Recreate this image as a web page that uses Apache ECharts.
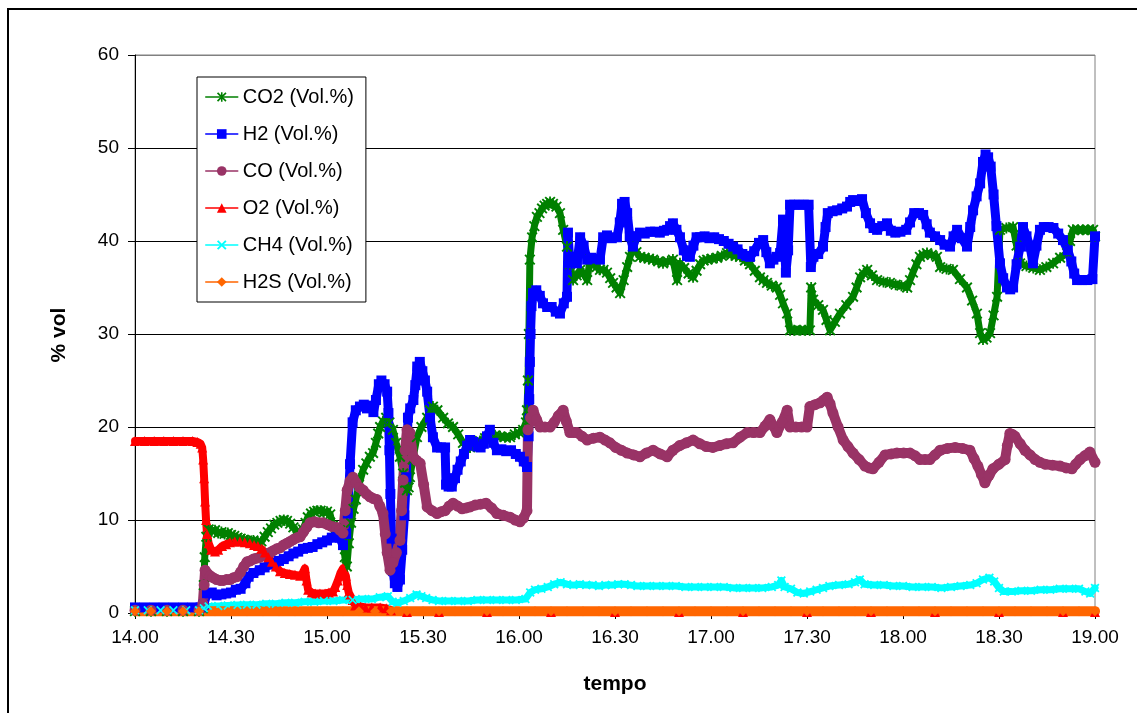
<!DOCTYPE html>
<html><head><meta charset="utf-8">
<script src="https://cdn.jsdelivr.net/npm/echarts@6/dist/echarts.min.js"></script>
<style>html,body{margin:0;padding:0;background:#fff}#c{width:1137px;height:713px}</style>
</head><body><div id="c"></div>
<script>
// x values are minutes after 14.00
const xTickLabels = ['14.00','14.30','15.00','15.30','16.00','16.30','17.00','17.30','18.00','18.30','19.00'];
const yTickLabels = ['0','10','20','30','40','50','60'];
const seriesNames = ['CO2 (Vol.%)','H2 (Vol.%)','CO (Vol.%)','O2 (Vol.%)','CH4 (Vol.%)','H2S (Vol.%)'];

const co2 = [[0,0.2],[5,0.2],[10,0.2],[15,0.2],[20,0.2],[21.2,0.5],[21.5,3],[21.8,6],[22.3,8.2],[23,9],[24,8.8],[25,8.9],[26,8.6],[27,8.7],[28,8.5],[29,8.6],[30,8.4],[31,8.3],[32,8.1],[33,8.0],[34,7.9],[35,7.8],[36,7.7],[37,7.8],[38.4,7.5],[39.5,7.7],[40.5,8.2],[41.5,8.7],[42.5,9.1],[43.5,9.5],[44.5,9.7],[45.5,9.9],[46.5,10],[47.5,9.9],[48.5,9.6],[49.5,9.2],[50.5,8.8],[51.6,8.6],[52.5,9],[53.3,9.7],[54,10.3],[55,10.7],[56,10.9],[57,11],[58,11],[59,10.8],[60,10.9],[61,10.6],[61.8,9.4],[62.8,9.1],[64,8.9],[65,8.2],[65.6,6],[66.2,5],[66.8,7.5],[67.5,9.7],[68.3,11.2],[69,12.2],[70,13.8],[71.3,15.4],[72.3,16.1],[73.4,16.8],[74.4,17.2],[75.3,18.3],[76,19.3],[76.6,20],[77.5,20.6],[78.5,21],[79.5,20.5],[80.6,19.7],[81.6,18.3],[82.8,16.8],[83.8,15],[84.4,14],[85,13.2],[85.5,13.5],[85.9,14.6],[86.8,16.5],[88.1,18.9],[89.5,20],[91.3,21],[92.2,21.8],[93.1,22.2],[94.5,21.8],[96.3,21],[97.8,20.4],[99.4,20],[101,19.2],[102.5,18.3],[103.6,18],[104.7,17.8],[106.2,18.1],[107.8,18.5],[109.4,18.8],[110.9,18.9],[112.5,19.1],[114.1,19],[115.6,18.9],[117.2,18.9],[118.7,19.2],[120,19.4],[121.3,19.7],[122.2,20.5],[122.5,21.8],[122.8,25],[123.1,30],[123.4,38],[124.1,40.4],[124.8,41.6],[125.6,42.6],[126.4,43],[127.2,43.5],[128,43.8],[128.8,44],[129.7,44.2],[130.6,44],[131.7,43.7],[132.8,43],[133.8,41.2],[135,39.4],[135.9,37.5],[136.9,35.8],[138,36.3],[139.1,36.9],[140.2,36.5],[141.3,35.8],[142.2,38],[143.2,37.6],[144.3,37.2],[145.3,36.9],[146.4,36.9],[147.5,36.6],[148.5,36],[149.4,35.5],[150.5,35],[151.6,34.4],[152.7,35.8],[153.8,37.2],[154.7,38.3],[155.6,39.4],[156.7,38.8],[157.8,38.3],[159.2,38.2],[160.6,38.1],[161.9,38],[163.5,37.8],[165,37.6],[166.5,37.8],[168.1,38],[169.4,35.8],[170.3,37.6],[171.6,37.1],[173,36.5],[174.4,36.1],[175.5,36.8],[176.6,37.5],[177.7,37.9],[178.8,38],[180.3,38.1],[181.9,38.2],[183.4,38.4],[185,38.7],[186.4,38.5],[187.8,38.4],[189.1,38.3],[190.6,37.9],[192.2,37.5],[193.7,36.8],[195.3,36.1],[196.4,35.8],[197.5,35.5],[199,35.2],[200.6,35],[201.6,34.2],[202.5,33.3],[203.8,32.2],[204.7,30.4],[206,30.4],[207.8,30.4],[209.4,30.4],[210.9,30.4],[211.3,35],[211.9,33.7],[213.5,33.1],[215,32.6],[216.1,31.5],[217.2,30.4],[218.7,31.3],[220.3,32.2],[222.3,33.1],[224.4,34],[225.5,35],[226.6,36.1],[227.7,36.5],[228.8,36.9],[230.3,36.3],[231.9,35.8],[233.9,35.6],[235.9,35.5],[237.7,35.3],[239.5,35.2],[241.3,35],[242.2,35.8],[243.1,36.6],[244.2,37.5],[245.3,38.3],[246.4,38.5],[247.5,38.7],[249,38.5],[250.6,38.3],[251.6,37.2],[253.6,37],[255.6,36.9],[257.8,35.9],[260,35],[261.6,33.6],[263.1,32.2],[264.1,30.1],[265,29.4],[266.1,29.6],[267.2,30.1],[268.3,32],[269.4,34],[270.3,41.2],[272.3,41.4],[274.4,41.5],[275.5,39.5],[276.6,37.6],[278.6,37.3],[280.7,37.1],[282.8,36.9],[284.8,37.2],[286.9,37.6],[289.1,38.2],[291.3,38.7],[292.2,40],[293.1,41.2],[294.7,41.2],[296.2,41.2],[297.8,41.2],[299.4,41.2],[300,40.5]];

const h2 = [[0,0.6],[3,0.6],[6,0.6],[9,0.6],[12,0.6],[15,0.6],[18,0.6],[20.5,0.6],[21.5,0.9],[22.5,2.1],[24,2.2],[25.5,1.9],[27,2.0],[28.5,2.1],[30,2.2],[31.5,2.5],[33,2.6],[34.5,3.2],[35.5,3.9],[37,4.3],[39,4.6],[40.5,4.9],[42,5.2],[43.5,5.4],[45,5.6],[46.5,5.8],[48,6.1],[49.5,6.4],[51,6.6],[52.5,6.9],[54,7.0],[55.5,7.1],[57,7.4],[58.5,7.6],[60,7.8],[61.5,8.1],[63,8.4],[64,8.1],[65,7.3],[66,8.5],[66.5,10.7],[67.2,16],[68,20.5],[69,21.8],[70.3,22.2],[71.5,22.4],[72.5,22.0],[73.5,22.3],[74.5,21.6],[75.3,22.9],[76.2,24.6],[77,25],[78,24.6],[78.8,23.8],[79.2,21.5],[79.5,17.5],[79.8,12.8],[80.2,8],[80.6,4.5],[81.2,3.2],[82,2.8],[82.8,3.6],[83.5,6.8],[84.2,10.5],[84.8,14.6],[85.3,21],[86,22],[87,22.9],[87.6,24.5],[88.2,26.5],[89,27],[89.8,26],[90.6,25],[91.3,23.8],[92.2,21],[93.1,18.9],[94.4,17.8],[95.6,17.8],[96.9,17.8],[97.2,13.8],[98,13.6],[99,13.6],[100,14.5],[100.8,15.4],[101.8,16.3],[102.8,17.1],[103.8,18.0],[104.7,18.6],[105.8,18.4],[107,17.9],[108,17.8],[109,18.2],[110,19],[110.9,19.7],[112,18.3],[113.1,17.5],[114.5,17.6],[116,17.4],[117.5,17.5],[119,17.1],[120.3,16.8],[121.5,16.3],[122.5,15.7],[123,19],[123.2,23],[123.4,27],[123.6,30],[123.9,33],[124.4,34.4],[125.4,34.7],[126.5,34.1],[127.5,33.3],[128.8,32.9],[130.2,32.9],[131.5,32.4],[132.8,32.2],[134,33.3],[135,34],[135.3,40.9],[135.9,37.6],[137,37.8],[138.1,37.6],[139.1,40.4],[140.2,39.5],[141.3,38],[142.5,38.2],[144,38.1],[145.3,38],[146.3,40.4],[147.5,40.6],[149,40.3],[150.6,40.4],[151.5,42],[152.2,44],[153,44.2],[153.8,43],[154.6,40.5],[155.6,39.4],[156.7,40.5],[157.8,40.9],[159.3,40.8],[161,41],[162.5,41],[164,40.9],[165.3,41.1],[166.3,41.2],[167.2,41.6],[168.1,41.9],[169.2,41.2],[170.3,40.4],[171.5,39],[172.5,38.4],[173.4,38.3],[174.5,39.5],[175.5,40.4],[176.6,40.4],[178,40.5],[179.5,40.3],[181,40.4],[182.5,40.2],[184,40.0],[185.5,39.7],[186.9,39.4],[188.3,39.1],[189.8,38.6],[191,38.4],[192.2,38.3],[193.5,38.9],[195,39.8],[196.3,40.1],[197.3,38.8],[198.4,37.6],[199.5,38],[200.5,38.3],[201.6,38.7],[202.5,42.3],[203.4,36.6],[204.1,39],[204.7,43.9],[206,43.9],[207.5,43.9],[209,43.9],[210.5,43.9],[211.2,37.2],[212,38.3],[213.5,38.6],[215,39.4],[215.8,41.5],[216.5,43],[218,43.2],[219.4,43.3],[221,43.5],[222.5,43.7],[223.5,44.2],[224.4,44.4],[225.8,44.3],[227.2,44.5],[228.4,43],[229.7,41.9],[230.8,41.4],[231.9,41.2],[233.5,41.6],[235,41.9],[236.2,41.1],[237.6,40.9],[239.2,41],[241,41.2],[242.2,42],[243.5,43],[245,43],[246.3,42.8],[247.4,41.8],[248.4,40.9],[250,40.5],[251.6,40.1],[253,39.6],[254.7,39.4],[255.8,40.5],[256.9,41.2],[258.4,40.3],[260,39.4],[261,41.5],[261.9,43.3],[263,44.8],[264.1,46.2],[265,48.5],[265.8,49.3],[266.6,49],[267.4,48],[268.3,45],[269.2,41.6],[270.3,37.6],[271.3,36],[272.5,35],[273.5,34.8],[274.4,35],[275.5,37.5],[276.6,39.4],[277.5,41.5],[278.6,40.5],[279.7,39.4],[280.6,37.6],[281.7,39.5],[282.8,41.2],[284,41.5],[285.5,41.5],[287,41.4],[288.5,40.8],[290,40.1],[291.5,39],[292.6,37.8],[293.5,36.5],[294.4,35.8],[296,35.8],[297.6,35.8],[299.2,35.9],[300,40.5]];

const co = [[0,0.3],[5,0.3],[10,0.3],[15,0.3],[20,0.3],[21.2,1],[21.6,3],[21.9,4.6],[22.5,4.3],[23.5,4],[24.4,3.8],[25.5,3.6],[26.6,3.5],[27.6,3.5],[28.6,3.6],[29.7,3.6],[30.8,3.8],[31.9,3.9],[33,4.4],[34,5],[35,5.5],[36,5.6],[37,5.8],[38,5.9],[39.1,6],[40.1,6.2],[41.2,6.4],[42.2,6.5],[43.2,6.7],[44.3,6.9],[45.3,7],[46.4,7.3],[47.5,7.5],[48.5,7.7],[49.5,7.9],[50.6,8.1],[51.6,8.2],[52.6,8.7],[53.6,9.2],[54.7,9.7],[56,9.8],[57.4,9.7],[58.8,9.7],[60.2,9.5],[61.6,9.3],[63.1,9.2],[64,8.9],[65,8.6],[65.7,11],[66.3,13.2],[67.2,14.2],[68.1,14.6],[69.1,14],[70.2,13.5],[71.3,13.2],[72.3,12.8],[73.4,12.5],[74.5,12.3],[75.6,12.2],[76.5,11.5],[77.5,10.7],[78.2,8.5],[78.8,6.5],[79.7,4.6],[80.6,5.4],[81.7,6.5],[82.8,7.8],[83.3,11],[83.8,14.3],[84.4,17.5],[85,19.7],[85.9,19.4],[86.9,16.8],[88,16.4],[89.1,16.1],[90.2,13.8],[91.3,11.4],[92.8,11],[94.4,10.7],[95.7,10.9],[96.9,11],[98.2,11.5],[99.4,11.8],[100.8,11.5],[102.2,11.2],[103.5,11.3],[104.7,11.4],[106.3,11.6],[108,11.7],[109.7,11.8],[111.4,11.3],[113.1,10.7],[115.1,10.5],[117.2,10.3],[118.8,10],[120.3,9.8],[121.4,10.2],[122.5,11],[122.8,19.7],[123.6,21],[124.4,21.8],[125.5,20.8],[126.6,20],[128.1,20],[129.7,20],[131,20.5],[132.3,21.2],[133.8,21.8],[134.8,20.6],[135.9,19.4],[137,19.4],[138.1,19.4],[139.7,19],[141.3,18.6],[143.3,18.8],[145.3,18.9],[146.9,18.6],[148.4,18.3],[150.2,17.8],[152,17.5],[153.8,17.2],[155.8,17],[157.8,16.8],[159.8,17.2],[161.9,17.5],[164.1,17.1],[166.3,16.8],[168.1,17.5],[170.2,18],[172.3,18.3],[174.4,18.6],[176.5,18.2],[178.5,17.9],[180.6,17.8],[182.7,18],[184.8,18.2],[186.9,18.3],[189.1,18.9],[191.3,19.4],[193.3,19.4],[195.3,19.4],[196.9,20.1],[198.4,20.8],[199.5,20.1],[200.6,19.4],[202.2,20.5],[203.8,21.8],[204.7,20],[206.5,20],[208.3,20],[210,20],[210.9,22.2],[212.5,22.4],[214.1,22.6],[215.2,22.9],[216.3,23.2],[217.2,22.5],[218.1,21.5],[219.7,20],[221.3,18.6],[222.8,17.9],[224.4,17.2],[226.3,16.5],[228.1,15.8],[229.4,15.6],[230.6,15.5],[232.5,16.2],[234.4,17],[236.3,17.1],[238.1,17.2],[240.2,17.2],[242.2,17.2],[243.8,16.9],[245.3,16.5],[246.9,16.5],[248.4,16.5],[250,17],[251.6,17.5],[253.9,17.7],[256.3,17.8],[258.6,17.7],[260.9,17.5],[262.2,16.6],[263.4,15.8],[264.5,14.9],[265.6,14],[266.9,14.8],[268.1,15.5],[270,16],[271.9,16.5],[272.6,18],[273.4,19.3],[274.2,19.2],[275,19],[276.6,18.2],[278.1,17.5],[279.7,17],[281.3,16.5],[282.8,16.2],[284.4,16],[286.7,15.9],[289.1,15.8],[291,15.6],[292.8,15.5],[294,16],[295.3,16.5],[296.8,16.9],[298.4,17.3],[300,16.2]];

const o2 = [[0,18.5],[3,18.5],[6,18.5],[9,18.5],[12,18.5],[15,18.5],[18,18.5],[19.5,18.4],[20.5,18.2],[21,17.8],[21.3,16.5],[21.6,14.5],[21.9,12],[22.2,10],[22.5,8.5],[23,7.5],[23.8,6.8],[25,6.6],[26,6.8],[27.2,7.2],[28.5,7.4],[29.7,7.6],[31.2,7.7],[32.8,7.7],[34.3,7.6],[35.9,7.5],[37.2,7.3],[38.4,7.2],[39.5,6.9],[40.6,6.5],[41.7,6],[42.8,5.5],[44,5],[45.3,4.5],[46.8,4.3],[48.4,4.2],[50,4.1],[51.6,4.0],[52.4,4.3],[53.1,4.8],[53.6,3.5],[54.1,2.5],[55.2,2.2],[56.3,2.1],[57.8,2.1],[59.4,2.1],[60.6,2.2],[61.9,2.3],[62.6,2.8],[63.4,3.5],[64.2,4.3],[65,4.8],[65.5,4.3],[65.9,4.0],[66.3,3],[66.8,2.2],[67.2,2.0],[68,1.4],[68.8,0.8],[70.5,0.7],[72,0.6],[74,0.6],[76.6,0.6],[78.5,0.5],[80,0.3],[85,0.1],[95,0.1],[110,0.1],[130,0.1],[150,0.1],[170,0.1],[190,0.1],[210,0.1],[230,0.1],[250,0.1],[270,0.1],[290,0.1],[300,0.1]];

const ch4 = [[0,0.3],[4,0.3],[8,0.3],[12,0.3],[16,0.3],[20,0.3],[21.5,0.5],[23,0.7],[26,0.75],[29,0.8],[32,0.85],[35,0.9],[38,0.9],[41,1.0],[44,1.0],[47,1.1],[50,1.1],[53,1.2],[56,1.2],[59,1.3],[62,1.3],[65,1.4],[68,1.4],[71,1.5],[74,1.5],[76.5,1.7],[79,1.8],[80.5,1.2],[82,1.1],[84,1.3],[86,1.6],[88,2.0],[89.5,1.8],[91,1.6],[93,1.4],[95,1.3],[98,1.3],[101,1.3],[104,1.3],[107,1.4],[110,1.4],[113,1.4],[116,1.4],[119,1.4],[122,1.5],[123.5,2.2],[125,2.5],[127,2.6],[129,2.8],[131,3.1],[133,3.3],[135,3.1],[137,3.0],[139,3.1],[141,3.0],[143,3.0],[145,2.9],[147,3.0],[149,3.0],[151,3.1],[153,3.1],[155,3.0],[157,2.9],[160,2.9],[163,2.9],[166,2.9],[169,2.9],[172,2.8],[175,2.8],[178,2.8],[181,2.8],[184,2.8],[187,2.7],[190,2.7],[193,2.7],[196,2.7],[199,2.8],[201,3.0],[202,3.5],[203,2.8],[205,2.6],[207,2.2],[209,2.1],[211,2.3],[213,2.5],[215,2.7],[217,2.9],[220,3.0],[223,3.1],[225,3.3],[226.5,3.6],[228,3.1],[231,3.0],[234,3.0],[237,2.9],[240,2.9],[243,2.8],[246,2.8],[249,2.8],[252,2.7],[255,2.8],[258,2.9],[261,3.0],[263,3.2],[265,3.6],[267,3.8],[268.5,3.4],[270,2.7],[271.5,2.3],[274,2.3],[277,2.4],[280,2.4],[283,2.5],[286,2.5],[289,2.6],[292,2.6],[295,2.6],[297,2.3],[298.5,2.1],[300,2.7]];

const h2s = [[0,0.2],[5,0.2],[10,0.2],[15,0.2],[20,0.2],[25,0.2],[30,0.2],[35,0.2],[40,0.2],[45,0.2],[50,0.2],[55,0.2],[60,0.2],[65,0.2],[70,0.2],[75,0.2],[80,0.2],[85,0.2],[90,0.2],[95,0.2],[100,0.2],[105,0.2],[110,0.2],[115,0.2],[120,0.2],[125,0.2],[130,0.2],[135,0.2],[140,0.2],[145,0.2],[150,0.2],[155,0.2],[160,0.2],[165,0.2],[170,0.2],[175,0.2],[180,0.2],[185,0.2],[190,0.2],[195,0.2],[200,0.2],[205,0.2],[210,0.2],[215,0.2],[220,0.2],[225,0.2],[230,0.2],[235,0.2],[240,0.2],[245,0.2],[250,0.2],[255,0.2],[260,0.2],[265,0.2],[270,0.2],[275,0.2],[280,0.2],[285,0.2],[290,0.2],[295,0.2],[300,0.2]];

const STAR = 'path://M4.2 0H5.8V10H4.2Z M1.3 0.1L9.9 8.7L8.7 9.9L0.1 1.3Z M8.7 0.1L9.9 1.3L1.3 9.9L0.1 8.7Z';
const XMARK = 'path://M1.4 0L10 8.6L8.6 10L0 1.4Z M8.6 0L10 1.4L1.4 10L0 8.6Z';

function mk(name, data, color, symbol, size, width) {
  return {
    name: name, type: 'line', data: data,
    symbol: symbol, symbolSize: size, showSymbol: true, showAllSymbol: true,
    clip: false, animation: false,
    lineStyle: { color: color, width: width, join: 'round', cap: 'round' },
    itemStyle: { color: color, borderWidth: 0 },
    emphasis: { disabled: true }
  };
}

const chart = echarts.init(document.getElementById('c'), null, { renderer: 'canvas' });
chart.setOption({
  animation: false,
  backgroundColor: '#ffffff',
  grid: { left: 135, right: 42, top: 55, bottom: 100, show: true, borderColor: '#808080', borderWidth: 1, backgroundColor: '#ffffff' },
  xAxis: {
    type: 'value', min: 0, max: 300, interval: 30,
    axisLine: { show: true, lineStyle: { color: '#000', width: 1 } },
    axisTick: { show: true, length: 6, lineStyle: { color: '#000' } },
    splitLine: { show: false },
    axisLabel: { color: '#000', fontSize: 19, fontFamily: 'Liberation Sans, Arial, sans-serif', margin: 15,
      formatter: v => xTickLabels[Math.round(v / 30)] }
  },
  yAxis: {
    type: 'value', min: 0, max: 60, interval: 10,
    axisLine: { show: true, lineStyle: { color: '#000', width: 1 } },
    axisTick: { show: true, length: 7, lineStyle: { color: '#000' } },
    splitLine: { show: true, lineStyle: { color: ['#000','#000','#000','#000','#000','#000','#808080'], width: 1 } },
    axisLabel: { color: '#000', fontSize: 19, fontFamily: 'Liberation Sans, Arial, sans-serif', margin: 16,
      formatter: v => yTickLabels[Math.round(v / 10)] }
  },
  legend: {
    left: 197, top: 77, orient: 'vertical',
    backgroundColor: '#fff', borderColor: '#000', borderWidth: 1,
    padding: [10, 12, 10, 8], itemGap: 17, itemWidth: 32, itemHeight: 12,
    lineStyle: { width: 1.5 },
    textStyle: { color: '#000', fontSize: 20, lineHeight: 20, fontFamily: 'Liberation Sans, Arial, sans-serif' },
    data: seriesNames
  },
  graphic: [
    { type: 'rect', shape: { x: 8, y: 9, width: 1200, height: 800 }, style: { fill: 'none', stroke: '#000', lineWidth: 2 }, silent: true, z: 100 },
    { type: 'text', x: 615, y: 684, style: { text: 'tempo', font: 'bold 21px "Liberation Sans", Arial, sans-serif', fill: '#000', textAlign: 'center', textVerticalAlign: 'middle' } },
    { type: 'text', x: 59, y: 335, rotation: Math.PI / 2, style: { text: '% vol', font: 'bold 21px "Liberation Sans", Arial, sans-serif', fill: '#000', textAlign: 'center', textVerticalAlign: 'middle' } }
  ],
  series: [
    mk(seriesNames[0], co2, '#008000', STAR, 11, 7),
    mk(seriesNames[1], h2, '#0000FF', 'rect', 10, 9),
    mk(seriesNames[2], co, '#993366', 'circle', 11, 10),
    mk(seriesNames[3], o2, '#FF0000', 'triangle', 10, 8),
    mk(seriesNames[4], ch4, '#00FFFF', XMARK, 9, 7),
    mk(seriesNames[5], h2s, '#FF6600', 'diamond', 10, 10)
  ]
});
</script></body></html>
